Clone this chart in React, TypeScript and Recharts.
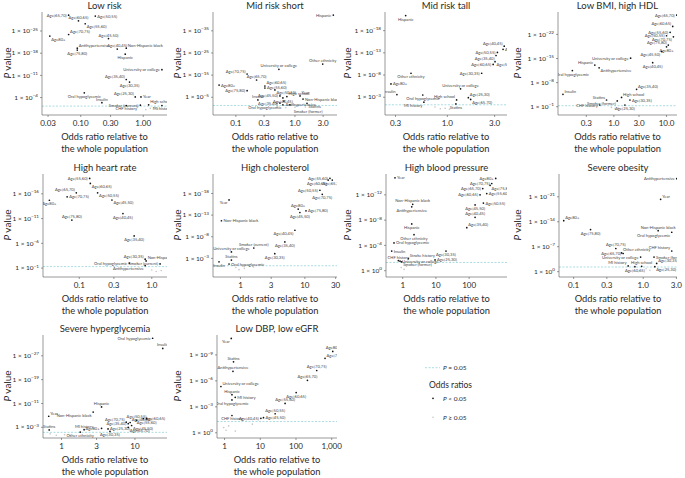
import React from 'react';
import { ScatterChart, Scatter, XAxis, YAxis, ReferenceLine } from 'recharts';

type Pt = [string, number, number];
type Ns = [number, number];

// each point: [covariate, odds ratio, -log10(P)]

const lowRiskPts: Pt[] = [
  ['Age[65,70)', 0.064, 30.0], ['Age[50,55)', 0.171, 29.7], ['Age[60,65)', 0.092, 28.2],
  ['Age[55,60)', 0.118, 27.3], ['Age[70,75)', 0.064, 23.9], ['Age80+', 0.032, 23.4],
  ['Age[45,50)', 0.278, 22.6], ['Antihypertensive', 0.088, 19.6], ['Age[75,80)', 0.088, 19.0],
  ['Age[40,45)', 0.384, 19.3], ['Non-Hispanic black', 0.535, 19.6], ['Hispanic', 0.515, 17.7],
  ['University or college', 1.99, 12.8], ['Age[35,40)', 0.535, 9.7], ['Age[30,35)', 0.604, 8.9],
  ['Oral hypoglycemic', 0.114, 5.5], ['Age[25,30)', 0.745, 4.2], ['Year', 0.92, 4.2],
  ['Insulin', 0.218, 2.4], ['Smoker (current)', 0.9, 1.6], ['High school', 1.22, 1.7],
  ['CHF history', 0.535, 1.5], ['MI history', 1.99, 1.5],
];
const lowRiskNs: Ns[] = [[0.8, 1.0], [1.3, 0.6], [1.5, 0.9], [1.7, 0.4], [1.1, 0.2]];
const lowRiskXTicks = [0.03, 0.1, 0.3, 1];
const lowRiskXLabels = ['0.03', '0.10', '0.30', '1.00'];
const lowRiskYTicks = [4, 11, 18, 25];

const midShortPts: Pt[] = [
  ['Hispanic', 4.46, 42.1], ['Other ethnicity', 2.95, 20.0], ['University or college', 0.535, 17.6],
  ['Age[70,75)', 0.155, 15.5], ['Age[65,70)', 0.224, 12.8], ['Age80+', 0.052, 10.5],
  ['Age[75,80)', 0.155, 8.0], ['Age[60,65)', 0.31, 10.1], ['Age[55,60)', 0.31, 9.2],
  ['Age[50,55)', 0.458, 8.3], ['Age[45,50)', 0.557, 5.6], ['Age[40,45)', 0.625, 4.7],
  ['High school', 0.73, 5.3], ['Year', 1.22, 5.6], ['Non-Hispanic black', 1.37, 4.2],
  ['Statins', 1.6, 2.3], ['Insulin', 0.236, 3.8], ['Age[35,40)', 0.557, 2.4],
  ['Antihypertensive', 0.65, 3.3], ['Oral hypoglycemic', 0.625, 1.6], ['Smoker (former)', 0.82, 1.6],
];
const midShortNs: Ns[] = [[0.5, 0.8], [0.7, 0.3], [1.0, 0.5], [1.5, 0.6]];
const midShortXTicks = [0.1, 0.3, 1, 3];
const midShortXLabels = ['0.1', '0.3', '1.0', '3.0'];
const midShortYTicks = [5, 15, 25, 35];

const midTallPts: Pt[] = [
  ['Hispanic', 0.38, 21.4], ['Age[40,45)', 3.75, 14.5], ['Age[45,50)', 3.65, 13.8],
  ['Age[50,55)', 3.2, 13.1], ['Age[35,40)', 3.1, 12.4], ['Age[55,60)', 3.03, 11.0],
  ['Age[60,65)', 2.9, 10.4], ['Age[30,35)', 2.22, 8.4], ['Other ethnicity', 0.43, 8.4],
  ['Age80+', 0.27, 6.0], ['University or college', 1.36, 4.9], ['Insulin', 0.31, 3.6],
  ['Oral hypoglycemic', 0.565, 3.5], ['Age[25,30)', 1.63, 2.9], ['High school', 1.24, 2.4],
  ['Age[65,70)', 1.72, 2.5], ['MI history', 0.58, 1.9], ['Statins', 1.22, 1.5],
];
const midTallNs: Ns[] = [[0.75, 0.8], [0.85, 0.4], [0.95, 0.5], [1.05, 0.3]];
const midTallXTicks = [0.3, 1, 3];
const midTallXLabels = ['0.3', '1.0', '3.0'];
const midTallYTicks = [3, 8, 13, 18];

const lowBmiPts: Pt[] = [
  ['Age[65,70)', 15.6, 27.6], ['Age[60,65)', 13.1, 24.3], ['Age[55,60)', 11.7, 22.6],
  ['Age[50,55)', 10.0, 21.6], ['Age[70,75)', 13.5, 21.3], ['Age[75,80)', 10.8, 18.9],
  ['Age80+', 10.0, 18.4], ['Age[45,50)', 8.1, 17.0], ['Age[40,45)', 5.46, 13.8],
  ['University or college', 2.08, 15.1], ['Hispanic', 0.435, 13.1], ['Antihypertensive', 0.525, 12.3],
  ['Oral hypoglycemic', 0.163, 11.5], ['Age[35,40)', 2.7, 6.06], ['Insulin', 0.108, 4.6],
  ['High school', 1.4, 3.7], ['Age[30,35)', 2.02, 2.95], ['Statins', 0.726, 2.95],
  ['Smoker (former)', 1.16, 2.7], ['CHF history', 0.54, 1.5], ['Age[25,30)', 1.62, 1.5],
];
const lowBmiNs: Ns[] = [[0.9, 0.8], [1.05, 0.4], [1.2, 0.6]];
const lowBmiXTicks = [0.3, 1, 3, 10];
const lowBmiXLabels = ['0.3', '1.0', '3.0', '10.0'];
const lowBmiYTicks = [1, 8, 15, 22];

const heartPts: Pt[] = [
  ['Age[55,60)', 0.139, 19.1], ['Age[60,65)', 0.142, 18.1], ['Age[65,70)', 0.091, 16.2],
  ['Age[50,55)', 0.179, 16.2], ['Age[70,75)', 0.068, 15.4], ['Age80+', 0.0387, 14.7],
  ['Age[45,50)', 0.282, 14.75], ['Age[40,45)', 0.4, 12.0], ['Age[75,80)', 0.079, 10.7],
  ['Age[35,40)', 0.571, 7.5], ['Age[30,35)', 0.81, 2.8], ['Non-Hispanic black', 0.835, 2.45],
  ['Oral hypoglycemic', 0.49, 2.0], ['Smoker (current)', 1.3, 1.85], ['Antihypertensive', 0.81, 1.5],
];
const heartNs: Ns[] = [[1.0, 0.6], [1.15, 0.3], [1.35, 0.5]];
const heartXTicks = [0.1, 0.3, 1];
const heartXLabels = ['0.1', '0.3', '1.0'];
const heartYTicks = [1, 6, 11, 16];

const cholPts: Pt[] = [
  ['Age[55,60)', 24.5, 21.5], ['Age[60,65)', 23.0, 21.1], ['Age[65,70)', 26.6, 21.1],
  ['Age[50,55)', 17.1, 18.75], ['Age[70,75)', 18.6, 17.8], ['Year', 0.665, 16.5],
  ['Age80+', 7.87, 14.4], ['Age[75,80)', 10.4, 14.0], ['Age[45,50)', 8.36, 13.6],
  ['Non-Hispanic black', 0.507, 11.7], ['Age[40,45)', 7.0, 9.5], ['Smoker (current)', 1.61, 5.4],
  ['Age[35,40)', 4.89, 6.8], ['University or college', 0.724, 4.5], ['Age[30,35)', 3.41, 4.1],
  ['Statins', 0.724, 2.6], ['Oral hypoglycemic', 0.665, 1.7], ['Insulin', 0.465, 2.2],
];
const cholNs: Ns[] = [[0.85, 0.9], [0.95, 0.4], [1.15, 0.7], [1.6, 1.0]];
const cholXTicks = [1, 3, 10, 30];
const cholXLabels = ['1', '3', '10', '30'];
const cholYTicks = [3, 8, 13, 18];

const bpPts: Pt[] = [
  ['Year', 0.586, 14.7], ['Age80+', 631, 14.6], ['Age[70,75)', 479, 13.8],
  ['Age[75,80)', 427, 13.5], ['Age[65,70)', 257, 13.0], ['Age[60,65)', 213, 12.0],
  ['Age[55,60)', 339, 12.2], ['Age[50,55)', 269, 10.7], ['Age[45,50)', 151, 10.4],
  ['Non-Hispanic black', 2.0, 10.5], ['Antihypertensive', 1.87, 10.1], ['Age[40,45)', 151, 8.45],
  ['Age[35,40)', 85, 6.8], ['Hispanic', 1.87, 7.4], ['Other ethnicity', 2.19, 5.7],
  ['Oral hypoglycemic', 0.547, 4.4], ['Insulin', 0.466, 3.1], ['Age[30,35)', 20.1, 3.1],
  ['Stroke history', 1.48, 1.9], ['Age[25,30)', 9.4, 1.7], ['CHF history', 0.74, 1.6],
  ['University or college', 0.83, 1.5], ['Smoker (former)', 0.93, 1.4],
];
const bpNs: Ns[] = [[0.9, 0.5], [1.1, 0.2], [1.3, 0.7]];
const bpXTicks = [1, 10, 100];
const bpXLabels = ['1', '10', '100'];
const bpYTicks = [0, 4, 8, 12];

const obesityPts: Pt[] = [
  ['Antihypertensive', 3.03, 26.1], ['Year', 1.78, 20.3], ['Age80+', 0.072, 14.3],
  ['Age[75,80)', 0.175, 11.8], ['Non-Hispanic black', 1.64, 11.5], ['Oral hypoglycemic', 2.57, 11.05],
  ['Age[70,75)', 0.404, 6.5], ['Other ethnicity', 0.489, 5.25], ['Age[65,70)', 0.515, 5.1],
  ['CHF history', 2.57, 5.8], ['Smoker (former)', 1.43, 4.1], ['University or college', 0.918, 4.1],
  ['Age[30,35)', 1.56, 2.3], ['MI history', 0.608, 1.6], ['High school', 0.95, 1.5],
  ['Age[60,65)', 0.76, 1.4], ['Age[25,30)', 1.47, 1.4],
];
const obesityNs: Ns[] = [[1.1, 0.8], [1.25, 0.4], [1.7, 0.6]];
const obesityXTicks = [0.1, 0.3, 1, 3];
const obesityXLabels = ['0.1', '0.3', '1.0', '3.0'];
const obesityYTicks = [0, 7, 14, 21];

const hyperPts: Pt[] = [
  ['Oral hypoglycemic', 17.4, 32.9], ['Insulin', 23.9, 29.5], ['Hispanic', 3.51, 9.85],
  ['Year', 0.67, 6.7], ['Non-Hispanic black', 2.7, 8.1], ['Age[50,55)', 10.5, 5.3],
  ['Age[70,75)', 7.6, 4.7], ['Age[40,45)', 8.6, 4.6], ['Age[60,65)', 13.0, 5.9],
  ['Age[55,60)', 14.4, 5.9], ['Age[35,40)', 8.1, 4.2], ['Age[45,50)', 9.0, 3.6],
  ['Age[25,30)', 4.3, 2.45], ['Age[30,35)', 4.57, 1.6], ['Age[65,70)', 8.1, 3.0],
  ['Age80+', 3.51, 2.65], ['MI history', 2.03, 2.2], ['Statins', 0.68, 2.1],
  ['Other ethnicity', 1.8, 1.4],
];
const hyperNs: Ns[] = [[0.7, 0.8], [0.85, 0.3], [1.1, 0.5], [1.3, 0.2]];
const hyperXTicks = [1, 3, 10];
const hyperXLabels = ['1', '3', '10'];
const hyperYTicks = [3, 11, 19, 27];

const dbpPts: Pt[] = [
  ['Year', 1.54, 10.9], ['Age80+', 1070, 9.4], ['Age[75,80)', 650, 8.6],
  ['Statins', 1.78, 8.2], ['Antihypertensive', 1.72, 7.1], ['Age[70,75)', 380, 7.2],
  ['Age[65,70)', 209, 6.06], ['University or college', 0.79, 5.35], ['Hispanic', 1.61, 4.4],
  ['MI history', 1.99, 4.1], ['Oral hypoglycemic', 1.61, 3.8], ['Age[60,65)', 101, 4.65],
  ['Age[55,60)', 49.5, 3.4], ['CHF history', 1.61, 2.0], ['Age[50,55)', 26.1, 2.2],
  ['Age[45,50)', 12.3, 1.75], ['Age[40,45)', 10.4, 1.67],
];
const dbpNs: Ns[] = [[0.95, 0.6], [1.1, 0.3], [1.3, 0.8], [2.0, 0.2], [6.0, 1.0]];
const dbpXTicks = [1, 10, 100, 1000];
const dbpXLabels = ['1', '10', '100', '1,000'];
const dbpYTicks = [0, 3, 6, 9];

// label placement around each dot (same order as the point arrays)
const lowRiskPos = ['l', 'r', 't', 'rd', 'ru', 'rd', 't', 'ru', 'b', 't', 'ru', 'b', 'l', 'lu', 'b', 'b', 'lu', 'r', 't', 'l', 'ru', 'b', 'b'];
const midShortPos = ['l', 't', 't', 'lu', 't', 'r', 'l', 'ru', 'r', 'rd', 'l', 'b', 'ru', 'ru', 'r', 'rd', 't', 'l', 'rd', 'ld', 'bb'];
const midTallPos = ['b', 'lu', 'r', 'l', 'ld', 'rd', 'l', 'l', 'b', 'r', 't', 'lu', 'b', 'ru', 'lu', 'rd', 'ld', 'b'];
const lowBmiPos = ['l', 'lu', 'l', 'l', 'ld', 'lu', 'b', 'ld', 'b', 'l', 'lu', 'rd', 'b', 'ru', 'ru', 'ru', 'r', 'lu', 'ld', 'l', 'b'];
const heartPos = ['l', 'rd', 'lu', 'rd', 'r', 'b', 'rd', 'b', 't', 'b', 'lu', 'ru', 'l', 'l', 'ld'];
const cholPos = ['l', 'ld', 'b', 'l', 'b', 'ld', 't', 'r', 'b', 'r', 'ld', 't', 'b', 't', 'b', 't', 'r', 'b'];
const bpPos = ['r', 'l', 'l', 'rd', 'l', 'l', 'r', 'r', 'b', 't', 'b', 't', 'ru', 'b', 'b', 'r', 'r', 'b', 'ru', 'r', 't', 'r', 'rd'];
const obesityPos = ['l', 'ru', 'ru', 'b', 't', 'ld', 't', 'ru', 'l', 'lu', 'r', 'l', 'ru', 'lu', 't', 'b', 'rd'];
const hyperPos = ['l', 't', 't', 'ru', 'ld', 't', 'lu', 'ru', 'r', 'b', 'l', 'rd', 'r', 'b', 'rd', 'l', 't', 't', 'b'];
const dbpPos = ['ld', 't', 'ru', 't', 't', 't', 't', 'ru', 't', 'r', 'b', 'b', 't', 'b', 't', 'r', 'l'];

const PANELS = [
  { title: 'Low risk', pts: lowRiskPts, pos: lowRiskPos, ns: lowRiskNs, xt: lowRiskXTicks, xl: lowRiskXLabels, yt: lowRiskYTicks, xd: [0.024, 2.4], yd: [-1.5, 31], yw: 42, col: 0, row: 0 },
  { title: 'Mid risk short', pts: midShortPts, pos: midShortPos, ns: midShortNs, xt: midShortXTicks, xl: midShortXLabels, yt: midShortYTicks, xd: [0.041, 5.15], yd: [-3, 43.5], yw: 43, col: 1, row: 0 },
  { title: 'Mid risk tall', pts: midTallPts, pos: midTallPos, ns: midTallNs, xt: midTallXTicks, xl: midTallXLabels, yt: midTallYTicks, xd: [0.235, 4.0], yd: [-1, 22.2], yw: 45, col: 2, row: 0 },
  { title: 'Low BMI, high HDL', pts: lowBmiPts, pos: lowBmiPos, ns: lowBmiNs, xt: lowBmiXTicks, xl: lowBmiXLabels, yt: lowBmiYTicks, xd: [0.087, 15.8], yd: [-1.4, 28.5], yw: 48, col: 3, row: 0 },
  { title: 'High heart rate', pts: heartPts, pos: heartPos, ns: heartNs, xt: heartXTicks, xl: heartXLabels, yt: heartYTicks, xd: [0.0316, 1.62], yd: [-0.8, 20], yw: 43, col: 0, row: 1 },
  { title: 'High cholesterol', pts: cholPts, pos: cholPos, ns: cholNs, xt: cholXTicks, xl: cholXLabels, yt: cholYTicks, xd: [0.375, 31.5], yd: [-1.3, 22.5], yw: 43, col: 1, row: 1 },
  { title: 'High blood pressure', pts: bpPts, pos: bpPos, ns: bpNs, xt: bpXTicks, xl: bpXLabels, yt: bpYTicks, xd: [0.314, 1380], yd: [-1, 15.3], yw: 46, col: 2, row: 1 },
  { title: 'Severe obesity', pts: obesityPts, pos: obesityPos, ns: obesityNs, xt: obesityXTicks, xl: obesityXLabels, yt: obesityYTicks, xd: [0.0616, 3.06], yd: [-1.5, 27.4], yw: 49, col: 3, row: 1 },
  { title: 'Severe hyperglycemia', pts: hyperPts, pos: hyperPos, ns: hyperNs, xt: hyperXTicks, xl: hyperXLabels, yt: hyperYTicks, xd: [0.56, 27.3], yd: [-0.6, 34], yw: 43, col: 0, row: 2 },
  { title: 'Low DBP, low eGFR', pts: dbpPts, pos: dbpPos, ns: dbpNs, xt: dbpXTicks, xl: dbpXLabels, yt: dbpYTicks, xd: [0.614, 1406], yd: [-0.6, 11.3], yw: 47, col: 1, row: 2 },
];

const ROW_TOP = [0, 162, 323];
const W = 171;
const H = 162;
const AXIS = '#555';
const TEXT = '#2a2a2a';
const THRESH = -Math.log10(0.05);

const OFF: Record<string, [number, number, 'start' | 'end' | 'middle']> = {
  r: [2, 1.5, 'start'], l: [-2, 1.5, 'end'], t: [0, -2, 'middle'], b: [0, 5, 'middle'],
  ru: [1.5, -1.5, 'start'], lu: [-1.5, -1.5, 'end'], rd: [1.5, 4.5, 'start'], ld: [-1.5, 4.5, 'end'],
  bb: [4, 8, 'start'],
};

const LabeledDot = (props: any) => {
  const { cx, cy, payload } = props;
  if (cx == null || cy == null) return null;
  const o = OFF[payload.pos] || OFF.r;
  return (
    <g>
      <circle cx={cx} cy={cy} r={0.85} fill="#111" />
      <text x={cx + o[0]} y={cy + o[1]} textAnchor={o[2]} fontSize={4.1} fill="#444">{payload.name}</text>
    </g>
  );
};

const GreyDot = (props: any) => {
  const { cx, cy } = props;
  if (cx == null || cy == null) return null;
  return <circle cx={cx} cy={cy} r={0.8} fill="#c4c4c4" />;
};

const YTick = ({ x, y, payload }: any) => (
  <text x={x} y={y} dy={2.2} textAnchor="end" fontSize={6.5} fill={TEXT}>
    1 × 10<tspan dy={-2.6} fontSize={4.6}>{payload.value === 0 ? '0' : '−' + payload.value}</tspan>
  </text>
);

const makeXTick = (ticks: number[], labels: string[]) => ({ x, y, payload }: any) => {
  const i = ticks.findIndex((t) => Math.abs(t - payload.value) < t * 1e-6);
  return (
    <text x={x} y={y} dy={6.5} textAnchor="middle" fontSize={8} fill={TEXT}>
      {i >= 0 ? labels[i] : payload.value}
    </text>
  );
};

const Panel = ({ cfg }: any) => {
  const data = cfg.pts.map((p: Pt, i: number) => ({ name: p[0], x: p[1], y: p[2], pos: cfg.pos[i] }));
  const ns = cfg.ns.map((g: Ns) => ({ x: g[0], y: g[1] }));
  const mid = (cfg.yw + W - 4) / 2;
  return (
    <div style={{ position: 'absolute', left: cfg.col * 170, top: ROW_TOP[cfg.row], width: W, height: H }}>
      <ScatterChart width={W} height={H} margin={{ top: 12, right: 4, bottom: 0, left: 0 }}>
        <XAxis
          type="number" dataKey="x" scale="log" domain={cfg.xd} ticks={cfg.xt} interval={0}
          allowDataOverflow height={47} tickSize={2}
          axisLine={{ stroke: AXIS, strokeWidth: 0.6 }} tickLine={{ stroke: AXIS, strokeWidth: 0.6 }}
          tick={makeXTick(cfg.xt, cfg.xl)}
        />
        <YAxis
          type="number" dataKey="y" domain={cfg.yd} ticks={cfg.yt} interval={0}
          allowDataOverflow width={cfg.yw} tickSize={2}
          axisLine={{ stroke: AXIS, strokeWidth: 0.6 }} tickLine={{ stroke: AXIS, strokeWidth: 0.6 }}
          tick={<YTick />}
        />
        <ReferenceLine y={THRESH} stroke="#86cfd6" strokeDasharray="2 1.5" strokeWidth={0.7} />
        <Scatter data={ns} shape={GreyDot} isAnimationActive={false} />
        <Scatter data={data} shape={LabeledDot} isAnimationActive={false} />
      </ScatterChart>
      <svg width={W} height={H} style={{ position: 'absolute', left: 0, top: 0, overflow: 'visible', pointerEvents: 'none' }}>
        <text x={mid} y={8.5} textAnchor="middle" fontSize={9.5} fill={TEXT}>{cfg.title}</text>
        <text transform={`translate(11,63) rotate(-90)`} textAnchor="middle" fontSize={10} fill={TEXT}>
          <tspan fontStyle="italic">P</tspan> value
        </text>
        <text x={mid} y={140} textAnchor="middle" fontSize={9.3} fill={TEXT}>Odds ratio relative to</text>
        <text x={mid} y={152} textAnchor="middle" fontSize={9.3} fill={TEXT}>the whole population</text>
      </svg>
    </div>
  );
};

const Legend = () => (
  <svg width={120} height={75} style={{ position: 'absolute', left: 400, top: 355 }}>
    <line x1={25} x2={40} y1={12.7} y2={12.7} stroke="#86cfd6" strokeDasharray="2 1.5" strokeWidth={0.7} />
    <text x={43} y={15} fontSize={6.5} fill={TEXT}><tspan fontStyle="italic">P</tspan> = 0.05</text>
    <text x={29} y={33} fontSize={8.5} fill={TEXT}>Odds ratios</text>
    <circle cx={33} cy={43.3} r={0.85} fill="#111" />
    <text x={43} y={45.5} fontSize={6.5} fill={TEXT}><tspan fontStyle="italic">P</tspan> &lt; 0.05</text>
    <circle cx={33} cy={62.3} r={0.8} fill="#c4c4c4" />
    <text x={43} y={64.5} fontSize={6.5} fill={TEXT}><tspan fontStyle="italic">P</tspan> ≥ 0.05</text>
  </svg>
);

export default function App() {
  return (
    <div style={{ position: 'absolute', left: 0, top: 0, width: 685, height: 478, background: '#fff', fontFamily: 'Lato, "Open Sans", sans-serif' }}>
      <style>{'.recharts-surface{overflow:visible}'}</style>
      {PANELS.map((p) => <Panel key={p.title} cfg={p} />)}
      <Legend />
    </div>
  );
}
